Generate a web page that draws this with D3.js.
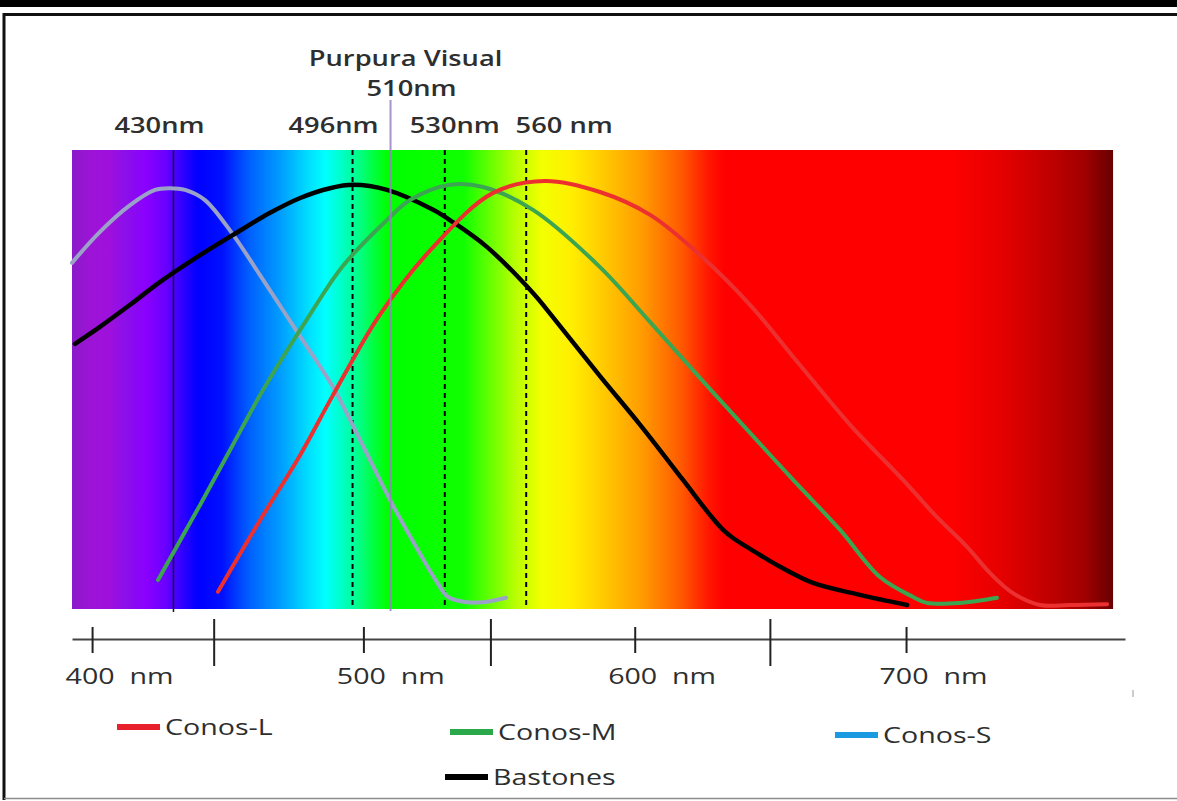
<!DOCTYPE html>
<html>
<head>
<meta charset="utf-8">
<script src="https://cdn.jsdelivr.net/npm/d3@7"></script>
<style>
  body { margin: 0; background: #fff; }
  svg { display: block; }
  text { font-family: "Open Sans", "Noto Sans", sans-serif; fill: #2e2e2e; }
</style>
</head>
<body>
<svg id="chart" width="1177" height="801"></svg>
<script>
// ---- Data: relative sensitivity (%) against wavelength (nm) ----
const conosS_nm  = [392.6, 402.9, 414.0, 423.2, 428.7, 434.3, 441.6, 452.0, 461.9, 475.6, 488.8, 498.8, 509.8, 519.0, 527.1, 531.2, 537.5, 544.8, 552.6];
const conosS_val = [80.7, 88.0, 94.3, 97.9, 98.3, 97.9, 95.5, 87.3, 77.8, 64.4, 51.4, 38.9, 24.8, 14.2, 5.4, 1.9, 0.7, 0.7, 1.7];

const bastones_nm  = [393.7, 402.9, 414.0, 425.1, 439.8, 452.0, 465.6, 476.7, 487.7, 496.2, 508.7, 525.7, 533.0, 545.6, 562.5, 567.7, 587.2, 602.0, 617.8, 627.8, 632.6, 636.2, 646.2, 653.6, 665.7, 683.0, 700.4];
const bastones_val = [61.6, 65.6, 70.8, 76.2, 82.5, 87.3, 92.5, 96.0, 98.3, 99.1, 97.9, 93.2, 90.3, 84.4, 73.6, 69.6, 54.0, 42.5, 29.5, 21.2, 17.7, 15.8, 11.8, 9.0, 5.2, 2.4, 0.0];

const conosM_nm  = [424.3, 439.8, 450.9, 463.0, 480.3, 492.5, 508.7, 517.2, 531.9, 544.1, 562.5, 587.2, 605.7, 624.1, 642.5, 658.4, 675.7, 690.4, 702.6, 707.7, 719.9, 733.5];
const conosM_val = [5.9, 23.6, 36.6, 50.7, 68.5, 80.0, 90.8, 95.5, 99.1, 98.6, 93.2, 79.7, 66.7, 53.5, 40.6, 29.5, 17.7, 6.6, 1.9, 0.5, 0.5, 1.7];

const conosL_nm  = [446.4, 461.9, 476.7, 488.8, 506.1, 525.7, 547.8, 567.0, 587.2, 605.7, 624.1, 642.5, 660.9, 679.4, 698.9, 710.7, 722.5, 731.0, 739.4, 749.4, 760.4, 774.1];
const conosL_val = [3.1, 20.0, 35.4, 49.5, 68.5, 84.4, 97.2, 100, 97.4, 92.0, 82.5, 70.8, 56.6, 42.5, 29.5, 21.2, 13.7, 7.5, 2.8, 0.0, 0.0, 0.2];

// Axis ticks
const axisTicks      = [400, 500, 600, 700];
const axisMajorTicks = [445, 547, 650];
const axisExtent     = [392.6, 780.7];
const spectrumExtent = [392.6, 776.3];

// Reference wavelengths
const markerNm     = [430, 496, 510, 530, 560];
const markerLabels = ["430nm", "496nm", "510nm", "530nm", "560 nm"];
const markerKinds  = ["solid", "dashed", "visual", "dashed", "dashed"];

// Legend
const legendNames  = ["Conos-L", "Conos-M", "Conos-S", "Bastones"];

// ---- Layout ----
const W = 1177, H = 801;
const plotTop = 150, plotBottom = 609;
const axisY = 639;
const TEXT_SX = 1.3;   // labels are drawn horizontally widened

const svg = d3.select("#chart");

const x = d3.scaleLinear().domain(axisExtent).range([72, 1125]);
const y = d3.scaleLinear().domain([0, 100]).range([605, 181]);

// ---- Frame ----
svg.append("rect").attr("x", 0).attr("y", 0).attr("width", W).attr("height", 7).attr("fill", "#000");
svg.append("path").attr("d", `M4,800 V14.5 H${W}`).attr("fill", "none")
   .attr("stroke", "#111").attr("stroke-width", 3);
svg.append("line").attr("x1", 4).attr("x2", W).attr("y1", 798.5).attr("y2", 798.5)
   .attr("stroke", "#8c8c8c").attr("stroke-width", 1.5);

// ---- Spectrum background ----
const spectrumColors = [
  [392.6, "#8a1bc8"], [399.0, "#9c14d6"], [406.0, "#a010dc"], [412.0, "#8c10e8"],
  [420.0, "#8a00ff"], [427.0, "#6a00ff"], [434.0, "#2a00ff"], [439.0, "#0000ff"],
  [448.0, "#0010ff"], [458.0, "#0060ff"], [470.0, "#00a0ff"], [480.0, "#00e0ff"],
  [486.0, "#00ffff"], [492.0, "#00ffc8"], [499.0, "#00ff80"], [505.0, "#00ff30"],
  [509.0, "#00ff00"], [537.0, "#10ff00"], [546.0, "#60ff00"], [556.0, "#b8ff00"],
  [566.0, "#f4ff00"], [577.0, "#ffee00"], [589.0, "#ffc800"], [603.0, "#ff9a00"],
  [617.0, "#ff5a00"], [627.0, "#ff1800"], [633.0, "#ff0000"], [716.2, "#ff0000"],
  [734.6, "#e60000"], [753.1, "#c00000"], [766.0, "#a00000"], [776.3, "#680000"]
];
const sx0 = x(spectrumExtent[0]), sx1 = x(spectrumExtent[1]);
const grad = svg.append("defs").append("linearGradient").attr("id", "spectrum")
  .attr("x1", 0).attr("x2", 1).attr("y1", 0).attr("y2", 0);
grad.selectAll("stop").data(spectrumColors).join("stop")
  .attr("offset", d => (x(d[0]) - sx0) / (sx1 - sx0))
  .attr("stop-color", d => d[1]);
svg.append("rect").attr("x", sx0).attr("y", plotTop)
  .attr("width", sx1 - sx0).attr("height", plotBottom - plotTop)
  .attr("fill", "url(#spectrum)");

// ---- Reference lines ----
const markers = markerNm.map((nm, i) => ({ nm, label: markerLabels[i], kind: markerKinds[i] }));
markers.forEach(m => {
  const l = svg.append("line").attr("x1", x(m.nm)).attr("x2", x(m.nm));
  if (m.kind === "solid") {
    l.attr("y1", plotTop).attr("y2", plotBottom + 3).attr("stroke", "#1a1020").attr("stroke-width", 1.5);
  } else if (m.kind === "dashed") {
    l.attr("y1", plotTop).attr("y2", plotBottom - 2).attr("stroke", "#000")
     .attr("stroke-width", 2).attr("stroke-dasharray", "5,4");
  }
});

// ---- Curves ----
const line = d3.line().x(d => x(d[0])).y(d => y(d[1])).curve(d3.curveCatmullRom.alpha(0.5));
const series = [
  { nm: conosS_nm,   v: conosS_val,   color: "#9aa2c8", w: 4 },
  { nm: bastones_nm, v: bastones_val, color: "#000000", w: 4.5 },
  { nm: conosM_nm,   v: conosM_val,   color: "#3ca552", w: 4 },
  { nm: conosL_nm,   v: conosL_val,   color: "#ec3030", w: 4 }
];
series.forEach(s => {
  svg.append("path").datum(s.nm.map((n, i) => [n, s.v[i]]))
    .attr("d", line).attr("fill", "none")
    .attr("stroke", s.color).attr("stroke-width", s.w)
    .attr("stroke-linejoin", "round").attr("stroke-linecap", "round");
});

// Purpura visual (510 nm) line on top
const visual = markers.find(m => m.kind === "visual");
svg.append("line").attr("x1", x(visual.nm)).attr("x2", x(visual.nm))
  .attr("y1", 100).attr("y2", plotBottom + 2)
  .attr("stroke", "#9a80c6").attr("stroke-width", 2).attr("opacity", 0.85);

// ---- Text helper (horizontally widened text) ----
function label(px, py, str, opts = {}) {
  return svg.append("text")
    .attr("transform", `translate(${px},${py}) scale(${TEXT_SX},1)`)
    .attr("text-anchor", opts.anchor || "start")
    .attr("font-size", opts.size || 22)
    .attr("font-weight", opts.weight || 500)
    .style("white-space", "pre")
    .text(str);
}

// Marker labels
const labelShift = { 430: -14, 496: -19, 510: 21, 530: 10, 560: 38 };
markers.forEach(m => {
  label(x(m.nm) + labelShift[m.nm], m.kind === "visual" ? 96 : 133, m.label,
        { anchor: "middle", size: 21, weight: 600 });
});
label(x(visual.nm) + 15, 66, "Purpura Visual", { anchor: "middle", size: 21, weight: 600 });

// ---- Axis ----
const gAxis = svg.append("g").attr("transform", `translate(0,${axisY})`);
gAxis.call(d3.axisBottom(x).tickValues(axisTicks).tickSize(14).tickSizeOuter(0).tickFormat(""));
gAxis.select(".domain").attr("stroke", "#444").attr("stroke-width", 2);
gAxis.selectAll(".tick line").attr("y1", -12).attr("y2", 14).attr("stroke", "#222").attr("stroke-width", 2);
gAxis.selectAll(".major").data(axisMajorTicks).join("line").attr("class", "major")
  .attr("x1", d => x(d)).attr("x2", d => x(d)).attr("y1", -20).attr("y2", 27)
  .attr("stroke", "#222").attr("stroke-width", 2);

axisTicks.forEach(t => {
  const tmp = svg.append("text").attr("font-size", 22).attr("font-weight", 500).text(String(t));
  const numW = tmp.node().getComputedTextLength() * TEXT_SX;
  tmp.remove();
  label(x(t) - numW / 2 - 2, 684, t + "\u00a0\u00a0nm");
});

// small stray mark at the right
svg.append("line").attr("x1", 1133).attr("x2", 1133).attr("y1", 690).attr("y2", 697)
  .attr("stroke", "#bbb").attr("stroke-width", 1.5);

// ---- Legend ----
const legendColors = ["#e8202c", "#2aa84a", "#1a9ae0", "#000000"];
const legendPos = [[117, 727], [450, 732], [835, 735], [445, 777]];
legendNames.forEach((name, i) => {
  const [lx, ly] = legendPos[i];
  svg.append("rect").attr("x", lx).attr("y", ly - 3).attr("width", 43).attr("height", 6)
    .attr("fill", legendColors[i]);
  label(lx + 48, ly + 8, name);
});
</script>
</body>
</html>
